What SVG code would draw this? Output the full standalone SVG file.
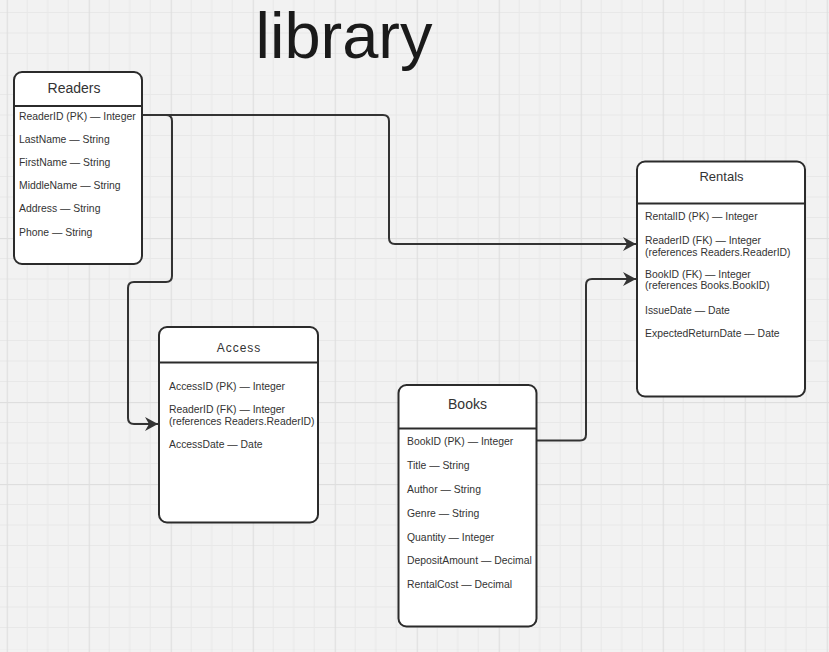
<svg xmlns="http://www.w3.org/2000/svg" width="829" height="652" viewBox="0 0 829 652">
<style>
  text { font-family: "Liberation Sans", Arial, sans-serif; fill: #333333; }
  .box { fill: #ffffff; stroke: #2b2b2b; stroke-width: 2; }
  .div { stroke: #2b2b2b; stroke-width: 2; }
  .row { font-size: 10.4px; }
  .ttl { text-anchor: middle; }
  .conn { fill: none; stroke: #333333; stroke-width: 2; }
</style>
<defs>
  <pattern id="grid" patternUnits="userSpaceOnUse" x="6.7" y="-8" width="82" height="82">
    <rect x="0" y="20" width="82" height="1" fill="#e8e8e8"/>
    <rect x="0" y="40.5" width="82" height="1" fill="#e8e8e8"/>
    <rect x="0" y="61" width="82" height="1" fill="#e8e8e8"/>
    <rect x="20" y="0" width="1" height="82" fill="#e8e8e8"/>
    <rect x="40.5" y="0" width="1" height="82" fill="#e8e8e8"/>
    <rect x="61" y="0" width="1" height="82" fill="#e8e8e8"/>
    <rect x="0" y="0" width="82" height="1.2" fill="#dedede"/>
    <rect x="0" y="0" width="1.2" height="82" fill="#dedede"/>
  </pattern>
  <marker id="arrow" markerUnits="userSpaceOnUse" markerWidth="15" markerHeight="15" viewBox="0 0 15 15" refX="13" refY="7.5" orient="auto">
    <path d="M0,0.5 L13,7.5 L0,14.5 L4,7.5 Z" fill="#333333"/>
  </marker>
</defs>
<rect x="0" y="0" width="829" height="652" fill="#f2f2f2"/>
<rect x="0" y="0" width="829" height="652" fill="url(#grid)"/>

<text x="344" y="58" font-size="65" text-anchor="middle" style="fill:#1a1a1a">library</text>

<g id="connectors">
  <path class="conn" d="M142,115 H383 Q389,115 389,121 V238 Q389,244 395,244 H636" marker-end="url(#arrow)"/>
  <path class="conn" d="M142,115 H166 Q172,115 172,121 V276 Q172,282 166,282 H134 Q128,282 128,288 V418 Q128,424 134,424 H158" marker-end="url(#arrow)"/>
  <path class="conn" d="M537,440.5 H580 Q586,440.5 586,434.5 V285 Q586,279 592,279 H636" marker-end="url(#arrow)"/>
</g>

<g id="readers">
  <rect class="box" x="14" y="72" width="128" height="192" rx="8"/>
  <line class="div" x1="14" y1="106" x2="142" y2="106"/>
  <text class="ttl" x="74" y="93" font-size="14">Readers</text>
  <text class="row" x="19" y="119.5">ReaderID (PK) — Integer</text>
  <text class="row" x="19" y="142.7">LastName — String</text>
  <text class="row" x="19" y="165.9">FirstName — String</text>
  <text class="row" x="19" y="189.1">MiddleName — String</text>
  <text class="row" x="19" y="212.3">Address — String</text>
  <text class="row" x="19" y="235.5">Phone — String</text>
</g>

<g id="rentals">
  <rect class="box" x="637" y="161.5" width="168" height="235" rx="8"/>
  <line class="div" x1="637" y1="203.5" x2="805" y2="203.5"/>
  <text class="ttl" x="721.5" y="181" font-size="13">Rentals</text>
  <text class="row" x="645" y="219.5">RentalID (PK) — Integer</text>
  <text class="row" x="645" y="244">ReaderID (FK) — Integer</text>
  <text class="row" x="645" y="255.7">(references Readers.ReaderID)</text>
  <text class="row" x="645" y="277.5">BookID (FK) — Integer</text>
  <text class="row" x="645" y="289.2">(references Books.BookID)</text>
  <text class="row" x="645" y="313.5">IssueDate — Date</text>
  <text class="row" x="645" y="336.5">ExpectedReturnDate — Date</text>
</g>

<g id="access">
  <rect class="box" x="159" y="327" width="159" height="195.5" rx="8"/>
  <line class="div" x1="159" y1="362.5" x2="318" y2="362.5"/>
  <text class="ttl" x="239" y="352" font-size="12" letter-spacing="1">Access</text>
  <text class="row" x="169" y="390">AccessID (PK) — Integer</text>
  <text class="row" x="169" y="413.3">ReaderID (FK) — Integer</text>
  <text class="row" x="169" y="425">(references Readers.ReaderID)</text>
  <text class="row" x="169" y="448.3">AccessDate — Date</text>
</g>

<g id="books">
  <rect class="box" x="398.5" y="385" width="138" height="241.5" rx="8"/>
  <line class="div" x1="398.5" y1="428.5" x2="536.5" y2="428.5"/>
  <text class="ttl" x="467.5" y="408.5" font-size="14">Books</text>
  <text class="row" x="407" y="444.5">BookID (PK) — Integer</text>
  <text class="row" x="407" y="468.6">Title — String</text>
  <text class="row" x="407" y="492.5">Author — String</text>
  <text class="row" x="407" y="516.6">Genre — String</text>
  <text class="row" x="407" y="540.5">Quantity — Integer</text>
  <text class="row" x="407" y="564.4">DepositAmount — Decimal</text>
  <text class="row" x="407" y="588.3">RentalCost — Decimal</text>
</g>
</svg>
